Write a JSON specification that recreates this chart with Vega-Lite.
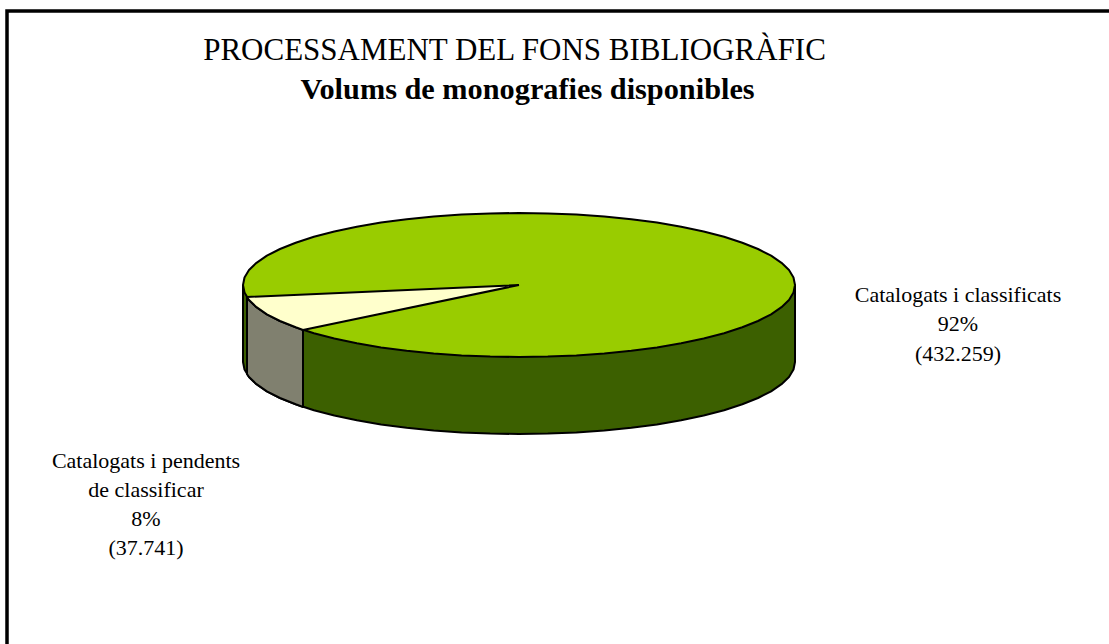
{
"$schema":"https://vega.github.io/schema/vega-lite/v6.json",
"width":1109,"height":644,"padding":0,"autosize":{"type":"none"},
"background":"white",
"config":{"view":{"stroke":null}},
"datasets":{
"shapes":[
{"part":"lateral classificats","x":243,"y":285},{"part":"lateral classificats","x":243,"y":362},{"part":"lateral classificats","x":244.5,"y":369.5},{"part":"lateral classificats","x":249,"y":377},{"part":"lateral classificats","x":256.5,"y":384.2},{"part":"lateral classificats","x":266.9,"y":391.3},{"part":"lateral classificats","x":280,"y":398},{"part":"lateral classificats","x":295.7,"y":404.3},{"part":"lateral classificats","x":313.9,"y":410.2},{"part":"lateral classificats","x":334.3,"y":415.5},{"part":"lateral classificats","x":356.8,"y":420.2},{"part":"lateral classificats","x":381,"y":424.4},{"part":"lateral classificats","x":406.7,"y":427.8},{"part":"lateral classificats","x":433.7,"y":430.5},{"part":"lateral classificats","x":461.6,"y":432.4},{"part":"lateral classificats","x":490.2,"y":433.6},{"part":"lateral classificats","x":519,"y":434},{"part":"lateral classificats","x":547.8,"y":433.6},{"part":"lateral classificats","x":576.4,"y":432.4},{"part":"lateral classificats","x":604.3,"y":430.5},{"part":"lateral classificats","x":631.3,"y":427.8},{"part":"lateral classificats","x":657,"y":424.4},{"part":"lateral classificats","x":681.2,"y":420.2},{"part":"lateral classificats","x":703.7,"y":415.5},{"part":"lateral classificats","x":724.1,"y":410.2},{"part":"lateral classificats","x":742.3,"y":404.3},{"part":"lateral classificats","x":758,"y":398},{"part":"lateral classificats","x":771.1,"y":391.3},{"part":"lateral classificats","x":781.5,"y":384.2},{"part":"lateral classificats","x":789,"y":377},{"part":"lateral classificats","x":793.5,"y":369.5},{"part":"lateral classificats","x":795,"y":362},{"part":"lateral classificats","x":795,"y":285},{"part":"lateral classificats","x":243,"y":285},
{"part":"lateral pendents","x":247,"y":297},{"part":"lateral pendents","x":247,"y":374},{"part":"lateral pendents","x":249,"y":377},{"part":"lateral pendents","x":256.5,"y":384.2},{"part":"lateral pendents","x":266.9,"y":391.3},{"part":"lateral pendents","x":280,"y":398},{"part":"lateral pendents","x":295.7,"y":404.3},{"part":"lateral pendents","x":303,"y":407},{"part":"lateral pendents","x":303,"y":330},{"part":"lateral pendents","x":247,"y":297},
{"part":"classificats","x":795,"y":285},{"part":"classificats","x":793.5,"y":292.5},{"part":"classificats","x":789,"y":300},{"part":"classificats","x":781.5,"y":307.2},{"part":"classificats","x":771.1,"y":314.3},{"part":"classificats","x":758,"y":321},{"part":"classificats","x":742.3,"y":327.3},{"part":"classificats","x":724.1,"y":333.2},{"part":"classificats","x":703.7,"y":338.5},{"part":"classificats","x":681.2,"y":343.2},{"part":"classificats","x":657,"y":347.4},{"part":"classificats","x":631.3,"y":350.8},{"part":"classificats","x":604.3,"y":353.5},{"part":"classificats","x":576.4,"y":355.4},{"part":"classificats","x":547.8,"y":356.6},{"part":"classificats","x":519,"y":357},{"part":"classificats","x":490.2,"y":356.6},{"part":"classificats","x":461.6,"y":355.4},{"part":"classificats","x":433.7,"y":353.5},{"part":"classificats","x":406.7,"y":350.8},{"part":"classificats","x":381,"y":347.4},{"part":"classificats","x":356.8,"y":343.2},{"part":"classificats","x":334.3,"y":338.5},{"part":"classificats","x":313.9,"y":333.2},{"part":"classificats","x":295.7,"y":327.3},{"part":"classificats","x":280,"y":321},{"part":"classificats","x":266.9,"y":314.3},{"part":"classificats","x":256.5,"y":307.2},{"part":"classificats","x":249,"y":300},{"part":"classificats","x":244.5,"y":292.5},{"part":"classificats","x":243,"y":285},{"part":"classificats","x":244.5,"y":277.5},{"part":"classificats","x":249,"y":270},{"part":"classificats","x":256.5,"y":262.8},{"part":"classificats","x":266.9,"y":255.7},{"part":"classificats","x":280,"y":249},{"part":"classificats","x":295.7,"y":242.7},{"part":"classificats","x":313.9,"y":236.8},{"part":"classificats","x":334.3,"y":231.5},{"part":"classificats","x":356.8,"y":226.8},{"part":"classificats","x":381,"y":222.6},{"part":"classificats","x":406.7,"y":219.2},{"part":"classificats","x":433.7,"y":216.5},{"part":"classificats","x":461.6,"y":214.6},{"part":"classificats","x":490.2,"y":213.4},{"part":"classificats","x":519,"y":213},{"part":"classificats","x":547.8,"y":213.4},{"part":"classificats","x":576.4,"y":214.6},{"part":"classificats","x":604.3,"y":216.5},{"part":"classificats","x":631.3,"y":219.2},{"part":"classificats","x":657,"y":222.6},{"part":"classificats","x":681.2,"y":226.8},{"part":"classificats","x":703.7,"y":231.5},{"part":"classificats","x":724.1,"y":236.8},{"part":"classificats","x":742.3,"y":242.7},{"part":"classificats","x":758,"y":249},{"part":"classificats","x":771.1,"y":255.7},{"part":"classificats","x":781.5,"y":262.8},{"part":"classificats","x":789,"y":270},{"part":"classificats","x":793.5,"y":277.5},{"part":"classificats","x":795,"y":285},
{"part":"pendents","x":519,"y":285},{"part":"pendents","x":247,"y":297},{"part":"pendents","x":249,"y":300},{"part":"pendents","x":256.5,"y":307.2},{"part":"pendents","x":266.9,"y":314.3},{"part":"pendents","x":280,"y":321},{"part":"pendents","x":295.7,"y":327.3},{"part":"pendents","x":303,"y":330},{"part":"pendents","x":519,"y":285}
],
"labels":[
{"text":"Catalogats i classificats","x":958,"y":295},
{"text":"92%","x":958,"y":324},
{"text":"(432.259)","x":958,"y":354},
{"text":"Catalogats i pendents","x":146,"y":461},
{"text":"de classificar","x":146,"y":490},
{"text":"8%","x":146,"y":519},
{"text":"(37.741)","x":146,"y":548}
],
"titol":[{"text":"PROCESSAMENT DEL FONS BIBLIOGRÀFIC","x":514.5,"y":50.5}],
"subtitol":[{"text":"Volums de monografies disponibles","x":527.5,"y":90}],
"frame":[{"x":7,"y":644},{"x":7,"y":11},{"x":1109,"y":11}]
},
"encoding":{
"x":{"field":"x","type":"quantitative","scale":{"domain":[0,1109],"nice":false,"zero":false},"axis":null},
"y":{"field":"y","type":"quantitative","scale":{"domain":[644,0],"nice":false,"zero":false},"axis":null}
},
"layer":[
{"data":{"name":"frame"},"mark":{"type":"line","stroke":"black","strokeWidth":3.5,"strokeJoin":"miter","clip":false},
"encoding":{"order":{"value":null}}},
{"data":{"name":"shapes"},"mark":{"type":"line","stroke":"black","strokeWidth":2,"strokeJoin":"round","clip":false},
"encoding":{"detail":{"field":"part"},"order":{"value":null},
"fill":{"field":"part","type":"nominal","legend":null,"scale":{"domain":["lateral classificats","lateral pendents","classificats","pendents"],"range":["#3c6000","#80806f","#99cc00","#ffffcc"]}}}},
{"data":{"name":"labels"},"mark":{"type":"text","font":"Liberation Serif","fontSize":22,"align":"center","baseline":"middle","fill":"black"},
"encoding":{"text":{"field":"text"}}},
{"data":{"name":"titol"},"mark":{"type":"text","font":"Liberation Serif","fontSize":31,"align":"center","baseline":"middle","fill":"black"},
"encoding":{"text":{"field":"text"}}},
{"data":{"name":"subtitol"},"mark":{"type":"text","font":"Liberation Serif","fontSize":30.3,"fontWeight":"bold","align":"center","baseline":"middle","fill":"black"},
"encoding":{"text":{"field":"text"}}}
]
}
